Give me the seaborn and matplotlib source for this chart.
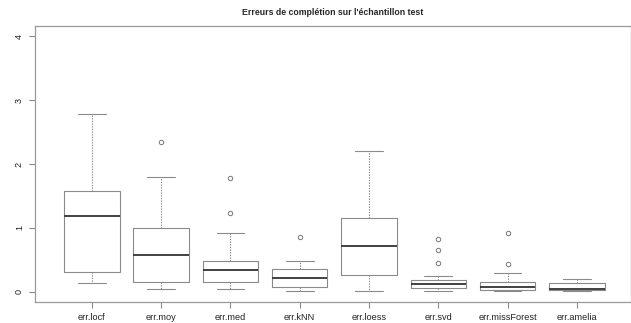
import matplotlib
matplotlib.use("Agg")
import matplotlib.pyplot as plt
import seaborn as sns

sns.set_style("white")
plt.rcParams['font.family'] = ['Liberation Sans', 'DejaVu Sans']

categories = ["err.locf", "err.moy", "err.med", "err.kNN", "err.loess",
              "err.svd", "err.missForest", "err.amelia"]
whislo = [0.145, 0.04, 0.047, 0.01, 0.01, 0.01, 0.01, 0.01]
q1 = [0.31, 0.15, 0.15, 0.07, 0.26, 0.057, 0.026, 0.025]
med = [1.19, 0.57, 0.34, 0.21, 0.71, 0.12, 0.078, 0.036]
q3 = [1.58, 1.005, 0.48, 0.355, 1.15, 0.18, 0.146, 0.13]
whishi = [2.79, 1.80, 0.92, 0.48, 2.21, 0.245, 0.29, 0.20]
fliers = [[], [2.34], [1.24, 1.78], [0.855], [], [0.45, 0.66, 0.82], [0.44, 0.92], []]
yticks = [0, 1, 2, 3, 4]
title = "Erreurs de complétion sur l'échantillon test"

stats = []
for i, c in enumerate(categories):
    stats.append(dict(label=c, whislo=whislo[i], q1=q1[i], med=med[i],
                      q3=q3[i], whishi=whishi[i], fliers=fliers[i]))

W, H = 631, 323
fig = plt.figure(figsize=(W / 100, H / 100), dpi=100)
ax = fig.add_axes([35 / W, 1 - 302 / H, 596 / W, 276 / H])

lc = "#8a8a8a"
positions = list(range(1, len(categories) + 1))
ax.bxp(stats, positions=positions, widths=0.8,
       boxprops=dict(color=lc, linewidth=0.8),
       whiskerprops=dict(color=lc, linewidth=0.8, linestyle=(0, (1.2, 1.2))),
       capprops=dict(color=lc, linewidth=0.8),
       medianprops=dict(color="#333333", linewidth=1.3, solid_capstyle="butt"),
       flierprops=dict(marker="o", markerfacecolor="none", markeredgecolor="#777777",
                       markersize=3.2, markeredgewidth=0.7),
       manage_ticks=False)

ax.set_xlim(0.18, 0.18 + 596 / 69.3)
ax.set_ylim(-0.16, 4.16)
ax.set_xticks(positions)
ax.set_xticklabels(categories, fontsize=6.6)
ax.set_yticks(yticks)
ax.set_yticklabels([str(t) for t in yticks], fontsize=6.6, rotation=90, va="center")
ax.tick_params(axis="both", direction="out", length=4, width=0.8, color="#888888",
               labelcolor="#222222", pad=4, left=True, bottom=True)
for s in ax.spines.values():
    s.set_color("#999999")
    s.set_linewidth(0.9)
ax.set_title(title, fontsize=6.3, fontweight="bold", pad=8)
fig.savefig("out.png", dpi=100)
